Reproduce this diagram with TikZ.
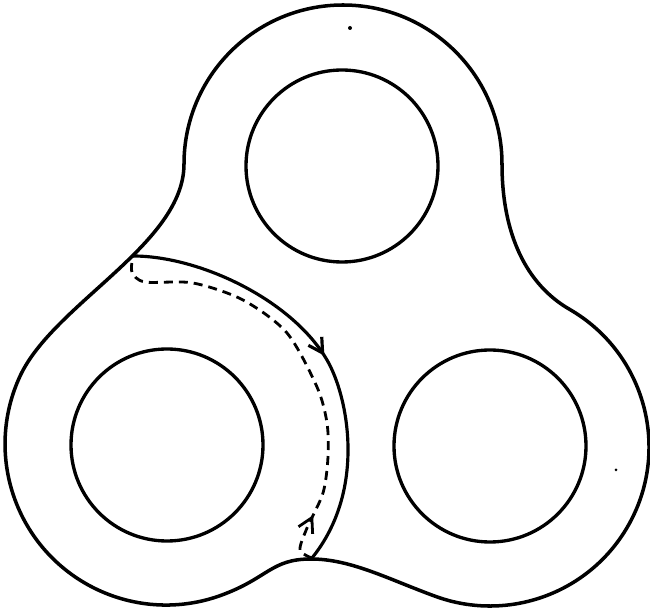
\documentclass[tikz,border=0pt]{standalone}
\usetikzlibrary{arrows.meta,decorations.markings}

\begin{document}
\begin{tikzpicture}[x=0.02cm,y=-0.02cm,
 rim/.style={line width=2pt,line join=round},
 hole/.style={line width=1.9pt},
 fwd/.style={line width=1.8pt,decoration={markings,mark=at position 0.51 with {\arrow{Straight Barb[length=8pt,width=9pt]}}},postaction=decorate},
 back/.style={line width=1.6pt,dash pattern=on 0.18cm off 0.12cm,decoration={markings,mark=at position 0.12 with {\arrow{Straight Barb[length=8pt,width=9pt]}}},postaction=decorate}]
\useasboundingbox (0,0) rectangle (650,614);
\coordinate (top) at (342,166);
\coordinate (lft) at (167,445);
\coordinate (rgt) at (490,446);
\coordinate (s) at (133,256);
\coordinate (e) at (312,558);
% outline of the surface: three lobes joined by soft waists
\draw[rim] (221.1,595.3) arc[start angle=70,end angle=205,radius=161]
 .. controls (53.9,303.5) and (184,244) .. (184,164)
 arc[start angle=180,end angle=360,radius=159]
 .. controls (502,234) and (526.2,284.3) .. (569.5,309.3)
 arc[start angle=-60,end angle=110,radius=159]
 .. controls (388.6,579.3) and (351,559) .. (311,559)
 .. controls (271,559) and (268.1,578.2) .. (221.1,595.3) -- cycle;
\foreach \c in {top,lft,rgt} \draw[hole] (\c) circle[radius=96];
% closed loop: solid on the front, dashed on the back
\draw[fwd] (s) .. controls (200,256) and (292,300) .. (327,360)
 .. controls (348,396) and (367,490) .. (e);
\draw[back] plot[smooth] coordinates {(e) (300,550) (307,528) (323,493) (328,457) (327,423) (317,387) (287,333) (243,300) (193,283) (145,282) (132,272) (s)};
\fill (350,28) circle[radius=2];
\fill (616,470) circle[radius=1.5];
\end{tikzpicture}
\end{document}
